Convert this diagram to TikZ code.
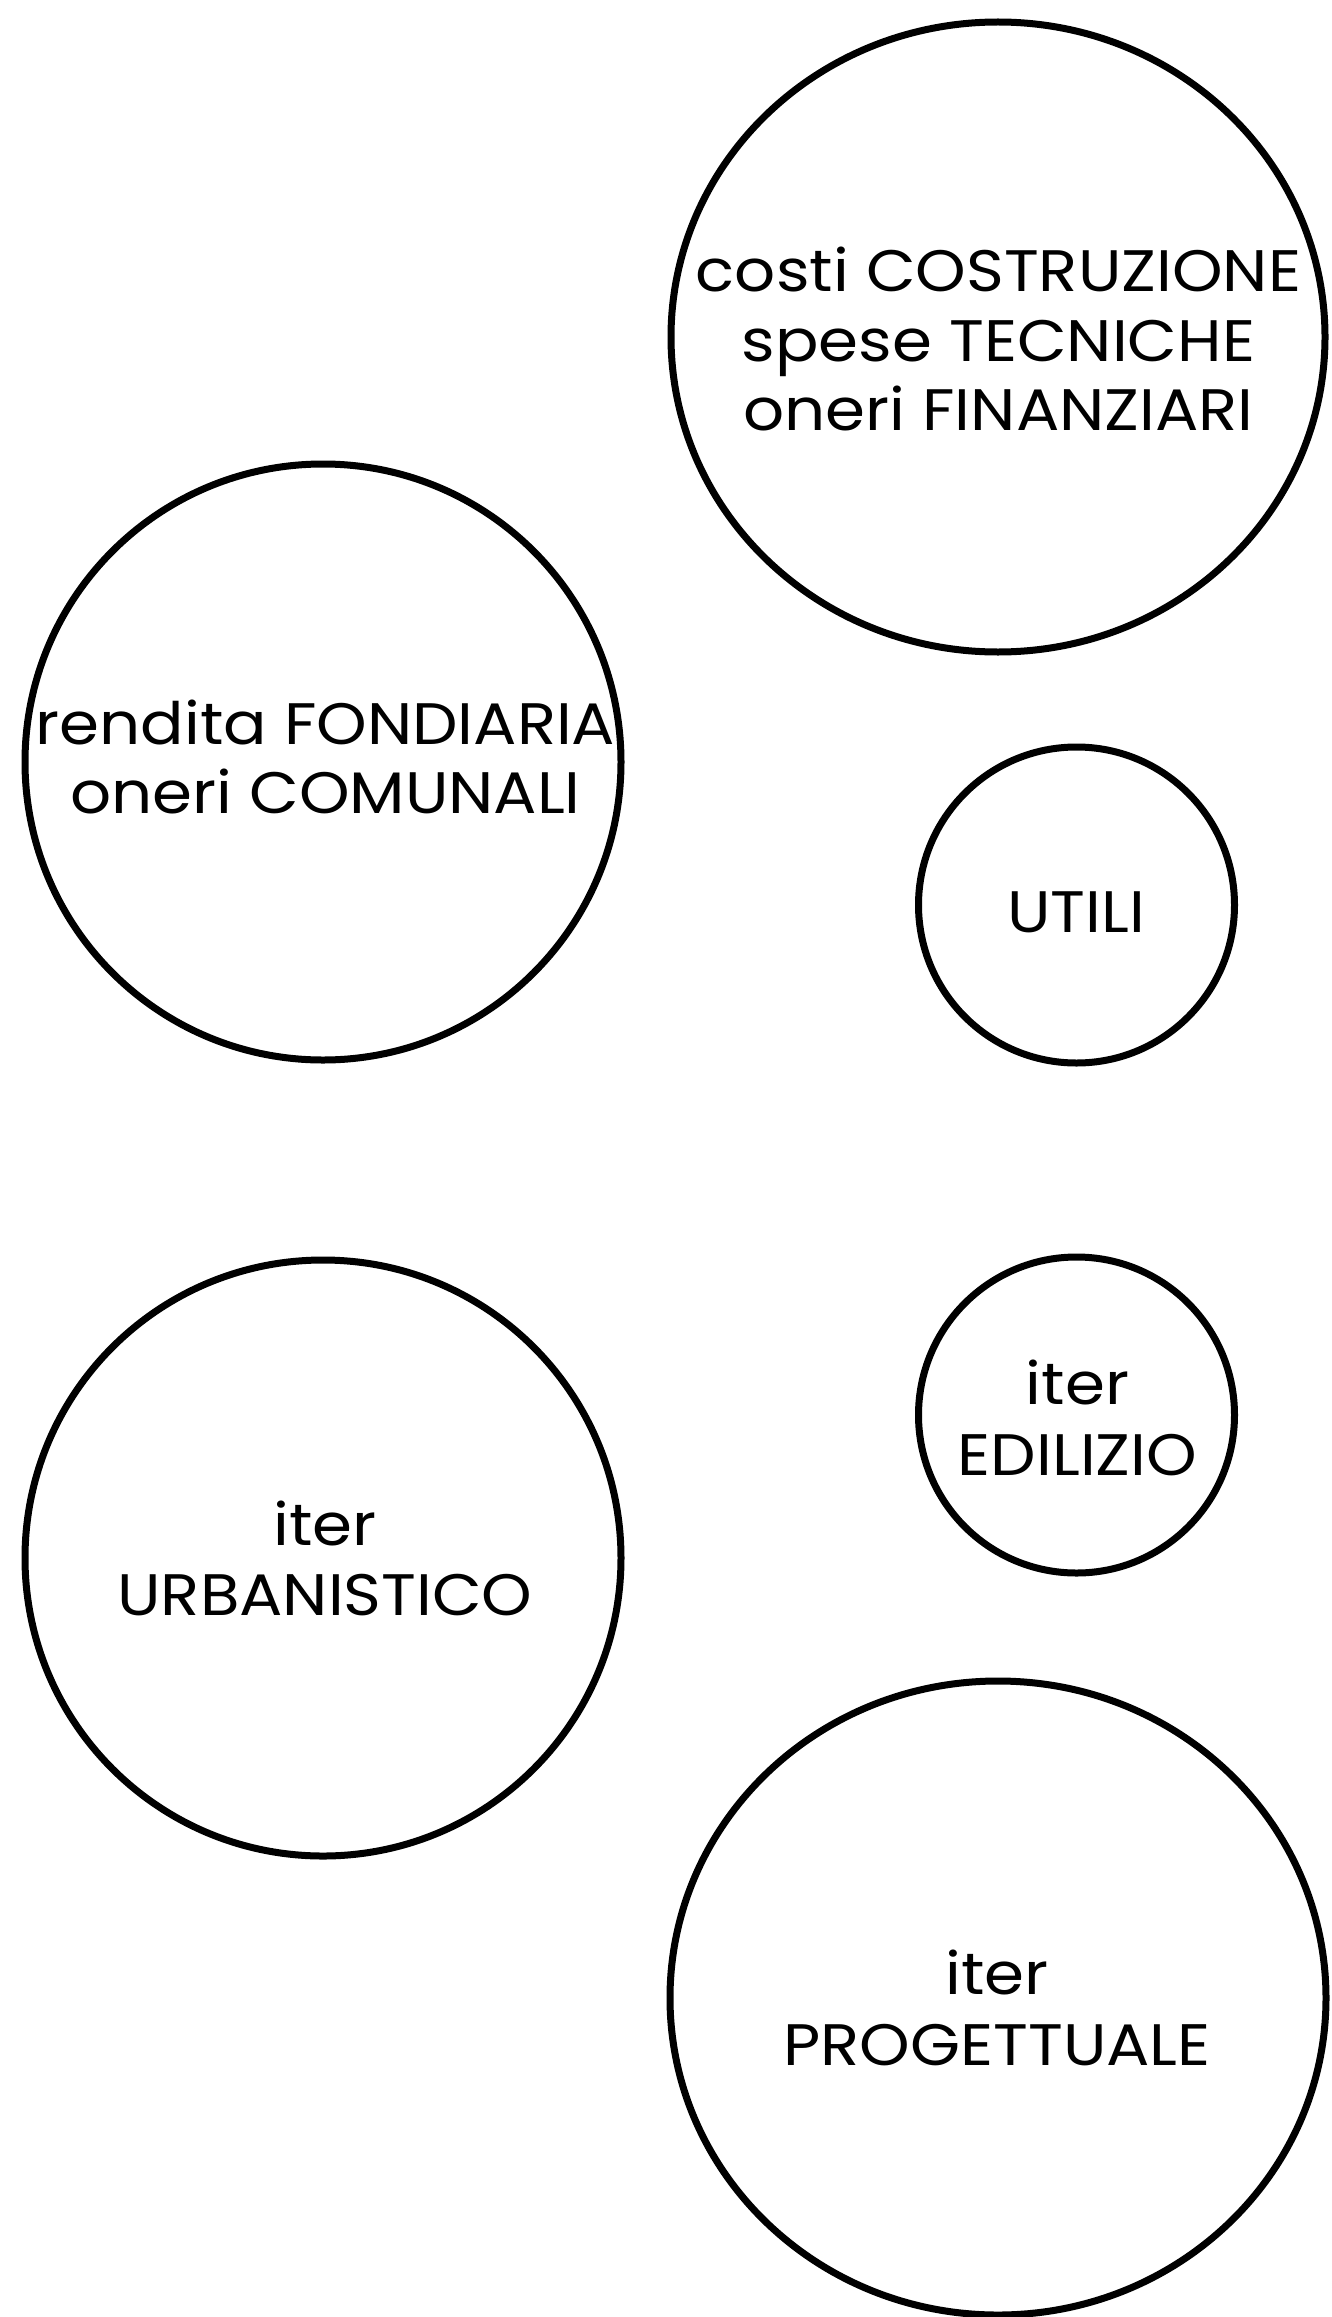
\documentclass[tikz,border=0pt]{standalone}
\usepackage{fontspec}
\setmainfont{Poppins}[FakeStretch=1.1]
\usetikzlibrary{shapes.geometric}
\begin{document}
\begin{tikzpicture}[x=1pt,y=-1pt,
  ring/.style={draw=black, line width=7pt, ellipse, inner sep=0pt, fill=none},
  lbl/.style={anchor=base, inner sep=0pt, font=\fontsize{58.5}{70}\selectfont, text=black}]
\useasboundingbox (0,0) rectangle (1331,2317);
\fill[white] (0,0) rectangle (1331,2317);
% circles
\node[ring, minimum width=654pt, minimum height=630pt] (costi) at (998,337) {};
\node[ring, minimum width=596pt, minimum height=596pt] (rendita) at (323,762) {};
\node[ring, minimum width=316pt, minimum height=316pt] (utili) at (1076.5,905) {};
\node[ring, minimum width=316pt, minimum height=316pt] (edilizio) at (1076.5,1415) {};
\node[ring, minimum width=596pt, minimum height=596pt] (urban) at (323,1558) {};
\node[ring, minimum width=656pt, minimum height=634pt] (prog) at (998,1998) {};
% texts
\node[lbl] (c1) at (998.5,291) {costi COSTRUZIONE};
\node[lbl] (c2) at (998.5,361) {spese TECNICHE};
\node[lbl] (c3) at (998.5,430) {oneri FINANZIARI};
\node[lbl] (r1) at (325.5,744) {rendita FONDIARIA};
\node[lbl] (r2) at (325.5,813) {oneri COMUNALI};
\node[lbl] (u1) at (1076,932) {UTILI};
\node[lbl] (e1) at (1077.5,1404) {iter};
\node[lbl] (e2) at (1077.5,1475) {EDILIZIO};
\node[lbl] (b1) at (325,1545) {iter};
\node[lbl] (b2) at (325,1615.5) {URBANISTICO};
\node[lbl] (p1) at (997,1994) {iter};
\node[lbl] (p2) at (997,2065.5) {PROGETTUALE};
\end{tikzpicture}
\end{document}
